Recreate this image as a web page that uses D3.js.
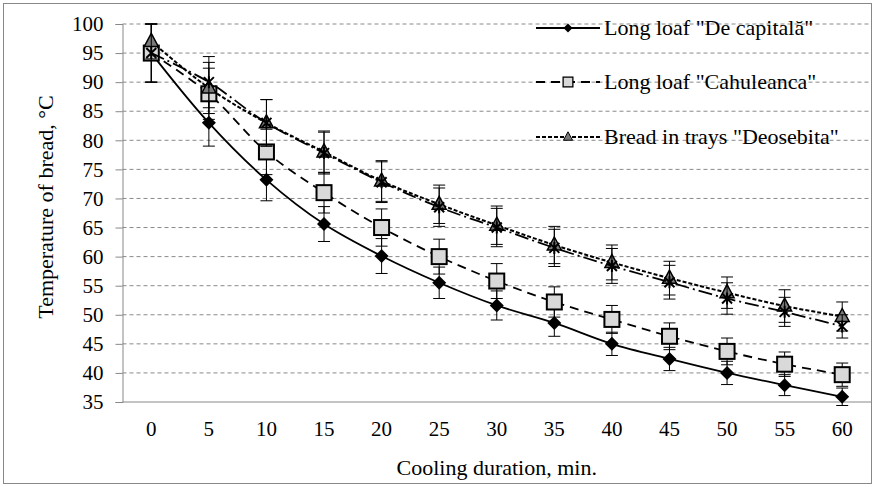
<!DOCTYPE html>
<html>
<head>
<meta charset="utf-8">
<script src="https://cdn.jsdelivr.net/npm/d3@7"></script>
<style>
  body { margin: 0; background: #fff; }
  svg text { font-family: "Liberation Serif", "DejaVu Serif", serif !important; fill: #000; }
</style>
</head>
<body>
<div class="canvas"></div>
<script>
// cooling time, min
const minutes = [0, 5, 10, 15, 20, 25, 30, 35, 40, 45, 50, 55, 60];
const yTicks = [35, 40, 45, 50, 55, 60, 65, 70, 75, 80, 85, 90, 95, 100];

// temperature of bread, °C, and error bars
const capitala = [95, 83, 73.2, 65.6, 60.1, 55.5, 51.6, 48.6, 45, 42.4, 40, 37.9, 35.9];
const capitalaErr = [5, 4, 3.6, 3, 3, 2.7, 2.5, 2.3, 2, 2, 2, 1.8, 1.5];
const cahuleanca = [95, 88, 78, 71, 65, 60, 55.8, 52.2, 49.2, 46.3, 43.7, 41.5, 39.7];
const cahuleancaErr = [5, 4.4, 3.9, 3.5, 3.2, 3, 3, 2.6, 2.4, 2.3, 2.3, 2.1, 2];
const deosebita = [97, 89, 83, 78, 73, 69, 65.4, 62, 59, 56.3, 53.8, 51.5, 49.7];
const deosebitaErr = [3, 4.4, 4, 3.6, 3.5, 3.3, 3.3, 3.2, 3, 2.9, 2.7, 2.8, 2.5];
const unnamed = [95, 90, 83, 77.8, 72.8, 68.5, 65, 61.5, 58.4, 55.6, 52.8, 50.5, 48];
const unnamedErr = [5, 4.4, 4, 3.6, 3.5, 3.3, 3.3, 3.2, 3, 2.9, 2.7, 2.5, 2];

const W = 875, H = 487;
const svg = d3.select('.canvas').append('svg')
  .attr('width', W).attr('height', H)
  .attr('font-family', '"Liberation Serif", serif');

// outer chart border
svg.append('rect')
  .attr('x', 3.5).attr('y', 3.5)
  .attr('width', W - 7).attr('height', H - 7)
  .attr('fill', 'none').attr('stroke', '#888').attr('stroke-width', 1);

const pLeft = 122.5, pRight = 871, pTop = 24, pBottom = 402;

const x = d3.scaleBand().domain(minutes).range([pLeft, pRight]);
const y = d3.scaleLinear().domain([35, 100]).range([pBottom, pTop]);
const cx = d => x(d) + x.bandwidth() / 2;

// gridlines
svg.append('g').selectAll('line')
  .data(yTicks.filter(t => t > 35))
  .enter().append('line')
  .attr('x1', pLeft).attr('x2', pRight)
  .attr('y1', d => y(d)).attr('y2', d => y(d))
  .attr('stroke', '#8a8a8a').attr('stroke-width', 1)
  .attr('stroke-dasharray', '4,3');

// y axis
const yAxis = svg.append('g')
  .attr('transform', `translate(${pLeft},0)`)
  .call(d3.axisLeft(y).tickValues(yTicks).tickSize(7).tickPadding(12));
yAxis.attr('font-family', null).attr('font-size', null);
yAxis.select('.domain').attr('stroke', '#888');
yAxis.selectAll('.tick line').attr('stroke', '#888');
yAxis.selectAll('text').style('font-size', '21px');

// x axis
const xAxis = svg.append('g')
  .attr('transform', `translate(0,${pBottom})`)
  .call(d3.axisBottom(x).tickSize(0).tickPadding(19));
xAxis.attr('font-family', null).attr('font-size', null);
xAxis.select('.domain').attr('stroke', '#888').attr('d', `M${pLeft},0H${pRight}`);
xAxis.selectAll('text').style('font-size', '21px');

// axis titles
svg.append('text')
  .attr('x', (pLeft + pRight) / 2).attr('y', 475)
  .attr('text-anchor', 'middle').style('font-size', '22px')
  .text('Cooling duration, min.');
svg.append('text')
  .attr('transform', `translate(53,207) rotate(-90)`)
  .attr('text-anchor', 'middle').style('font-size', '22px')
  .text('Temperature of bread, °C');

const series = [
  { name: 'Long loaf "De capitală"', values: capitala, err: capitalaErr, dash: null, width: 1.8, marker: 'diamond' },
  { name: 'Long loaf "Cahuleanca"', values: cahuleanca, err: cahuleancaErr, dash: '9,6', width: 1.8, marker: 'square' },
  { name: 'Bread in trays "Deosebita"', values: deosebita, err: deosebitaErr, dash: '4,2', width: 2, marker: 'triangle' },
  { name: null, values: unnamed, err: unnamedErr, dash: '14,4,2,4', width: 1.8, marker: 'cross' }
];

const line = d3.line()
  .x((d, i) => cx(minutes[i]))
  .y(d => y(d))
  .curve(d3.curveCatmullRom.alpha(0.5));

function drawMarker(g, type) {
  if (type === 'diamond') {
    g.append('path').attr('d', 'M0,-7L7,0L0,7L-7,0Z').attr('fill', '#000');
  } else if (type === 'square') {
    g.append('rect').attr('x', -7.5).attr('y', -7.5).attr('width', 15).attr('height', 15)
      .attr('fill', '#d9d9d9').attr('stroke', '#000').attr('stroke-width', 2);
  } else if (type === 'triangle') {
    g.append('path').attr('d', 'M0,-8L7,5L-7,5Z')
      .attr('fill', '#7a7a7a').attr('stroke', '#000').attr('stroke-width', 1.5);
  } else {
    g.append('path').attr('d', 'M-5,-5L5,5M-5,5L5,-5M0,-6L0,6')
      .attr('stroke', '#000').attr('stroke-width', 2);
  }
}

// first series at the bottom, later ones drawn over it
series.forEach(s => {
  const g = svg.append('g');
  g.append('path')
    .datum(s.values)
    .attr('d', line)
    .attr('fill', 'none').attr('stroke', '#000')
    .attr('stroke-width', s.width)
    .attr('stroke-dasharray', s.dash);

  // error bars
  const eb = g.selectAll('.eb').data(s.values).enter().append('g');
  eb.append('line')
    .attr('x1', (d, i) => cx(minutes[i])).attr('x2', (d, i) => cx(minutes[i]))
    .attr('y1', (d, i) => y(d + s.err[i])).attr('y2', (d, i) => y(d - s.err[i]))
    .attr('stroke', '#000').attr('stroke-width', 1);
  [1, -1].forEach(sign => {
    eb.append('line')
      .attr('x1', (d, i) => cx(minutes[i]) - 6).attr('x2', (d, i) => cx(minutes[i]) + 6)
      .attr('y1', (d, i) => y(d + sign * s.err[i])).attr('y2', (d, i) => y(d + sign * s.err[i]))
      .attr('stroke', '#000').attr('stroke-width', 1);
  });

  g.selectAll('.mk').data(s.values).enter().append('g')
    .attr('transform', (d, i) => `translate(${cx(minutes[i])},${y(d)})`)
    .each(function () { drawMarker(d3.select(this), s.marker); });
});

// legend
const legendRows = [28, 82, 137];
series.filter(s => s.name).forEach((s, i) => {
  const g = svg.append('g').attr('transform', `translate(536,${legendRows[i]})`);
  g.append('line').attr('x1', 0).attr('x2', 64)
    .attr('stroke', '#000').attr('stroke-width', s.width)
    .attr('stroke-dasharray', s.dash);
  const m = g.append('g').attr('transform', 'translate(32,0) scale(0.65)');
  drawMarker(m, s.marker);
  g.append('text').attr('x', 68).attr('dy', '0.33em')
    .style('font-size', '22px').text(s.name);
});
</script>
</body>
</html>
